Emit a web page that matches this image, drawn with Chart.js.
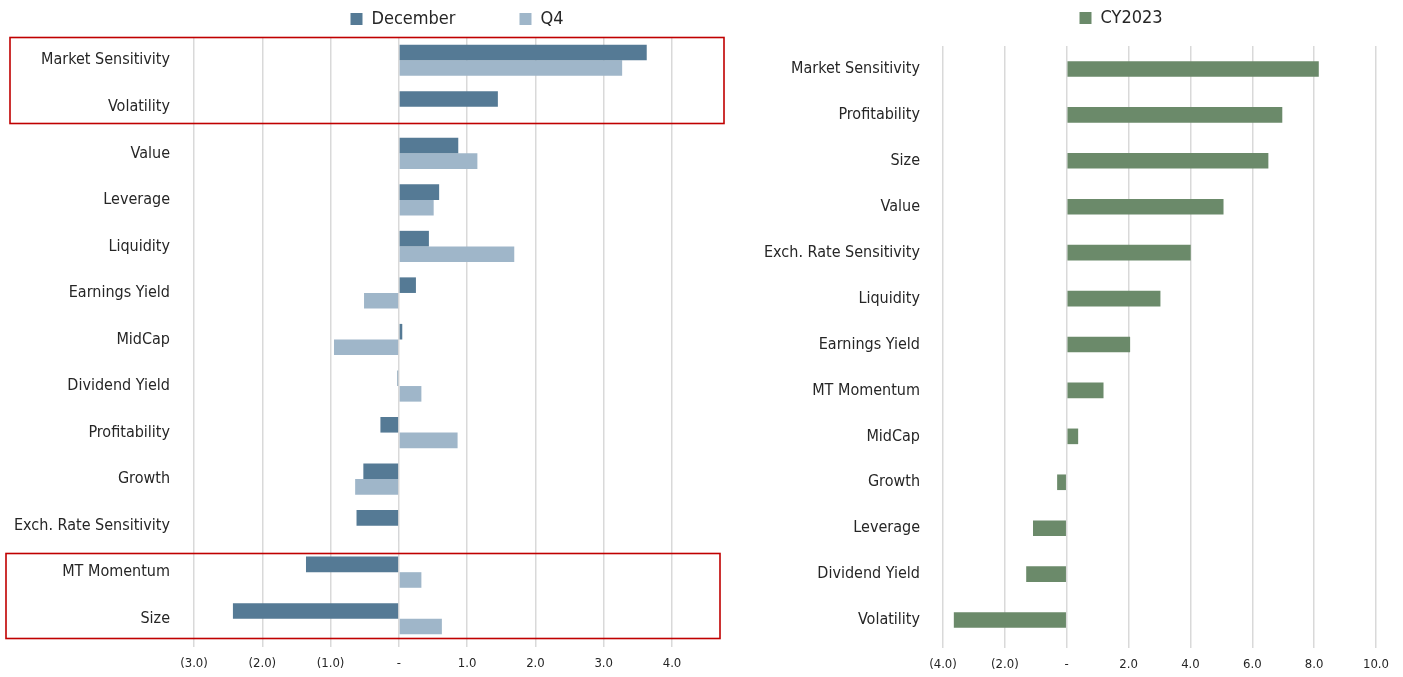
<!DOCTYPE html>
<html>
<head>
<meta charset="utf-8">
<script src="https://cdn.jsdelivr.net/npm/chart.js@4.4.0/dist/chart.umd.min.js"></script>
<style>
  html, body { margin: 0; padding: 0; background: #ffffff; }
  #wrap { position: relative; width: 1403px; height: 677px; overflow: hidden; }
  .box { position: absolute; top: 0; height: 677px; }
  #leftBox { left: 0; width: 730px; }
  #rightBox { left: 730px; width: 673px; }
</style>
</head>
<body>
<div id="wrap">
  <div class="box" id="leftBox"><canvas id="leftChart" width="730" height="677"></canvas></div>
  <div class="box" id="rightBox"><canvas id="rightChart" width="673" height="677"></canvas></div>
</div>
<script>
// ---------- DATA ----------
const leftCategories = ['Market Sensitivity', 'Volatility', 'Value', 'Leverage', 'Liquidity', 'Earnings Yield',
  'MidCap', 'Dividend Yield', 'Profitability', 'Growth', 'Exch. Rate Sensitivity', 'MT Momentum', 'Size'];
const decemberValues = [3.63, 1.45, 0.87, 0.59, 0.44, 0.25, 0.05, -0.02, -0.27, -0.52, -0.62, -1.36, -2.43];
const q4Values = [3.27, 0.01, 1.15, 0.51, 1.69, -0.51, -0.95, 0.33, 0.86, -0.64, -0.01, 0.33, 0.63];
const leftTickValues = [-3, -2, -1, 0, 1, 2, 3, 4];
const leftSeriesNames = ['December', 'Q4'];

const rightCategories = ['Market Sensitivity', 'Profitability', 'Size', 'Value', 'Exch. Rate Sensitivity',
  'Liquidity', 'Earnings Yield', 'MT Momentum', 'MidCap', 'Growth', 'Leverage', 'Dividend Yield', 'Volatility'];
const cy2023Values = [8.15, 6.97, 6.52, 5.07, 4.01, 3.03, 2.05, 1.19, 0.37, -0.31, -1.09, -1.31, -3.65];
const rightTickValues = [-4, -2, 0, 2, 4, 6, 8, 10];
const rightSeriesNames = ['CY2023'];

// highlighted category ranges on the left chart: [first, last]
const highlightGroups = [['Market Sensitivity', 'Volatility'], ['MT Momentum', 'Size']];

// ---------- STYLE ----------
const FONT = "'DejaVu Sans Condensed', sans-serif";
const TEXT = '#262626';
const GRID = '#d9d9d9';
const COL_DEC = '#557a95';
const COL_Q4 = '#9fb6c9';
const COL_CY = '#6b8a6a';
const RED = '#c00000';

function fmt(v) {
  if (Math.abs(v) < 1e-9) return '-';
  const s = Math.abs(v).toFixed(1);
  return v < 0 ? '(' + s + ')' : s;
}

function legendPlugin(firstBoxX, centerY) {
  return {
    id: 'legendPlace',
    beforeLayout(chart) {
      const lg = chart.legend;
      if (lg && !lg._patched) {
        const f = lg.fit;
        lg.fit = function () { f.call(this); this.height = 0; };
        lg._patched = true;
      }
    },
    afterLayout(chart) {
      const lg = chart.legend;
      if (!lg) return;
      const p = lg.options.labels.padding;
      const fs = lg.options.labels.font.size;
      const bh = lg.options.labels.boxHeight || fs;
      const itemH = Math.max(fs, bh);
      lg.left = firstBoxX - p;
      lg.right = firstBoxX + lg.lineWidths[0] + 1;
      lg.top = centerY - p - itemH / 2;
      lg.bottom = centerY + 30;
      lg.width = lg.right - lg.left;
      lg.height = lg.bottom - lg.top;
    }
  };
}

function makeOptions(cfg) {
  return {
    indexAxis: 'y',
    responsive: false,
    animation: false,
    events: [],
    layout: { padding: { top: cfg.top, right: cfg.right, left: 0, bottom: 0 } },
    plugins: {
      legend: {
        display: true,
        position: 'top',
        labels: {
          boxWidth: 12, boxHeight: 12, padding: cfg.legendPad,
          color: TEXT,
          font: { family: FONT, size: 18 }
        }
      },
      tooltip: { enabled: false }
    },
    scales: {
      x: {
        min: cfg.min, max: cfg.max,
        afterBuildTicks(s) { s.ticks = cfg.ticks.map(v => ({ value: v })); },
        afterFit(s) { s.height = cfg.xHeight; },
        grid: { color: GRID, lineWidth: 1.5, drawTicks: true, tickLength: 5, tickColor: GRID },
        border: { display: false },
        ticks: {
          color: TEXT, padding: 9,
          font: { family: FONT, size: 13 },
          maxRotation: 0, autoSkip: false,
          callback: v => fmt(v)
        }
      },
      y: {
        afterFit(s) { s.width = cfg.yWidth; },
        grid: { display: false, drawTicks: false },
        border: { display: false },
        ticks: {
          color: TEXT, padding: cfg.yPad,
          font: { family: FONT, size: 16 },
          autoSkip: false
        }
      }
    }
  };
}

// red highlight boxes on left chart
const highlightPlugin = {
  id: 'highlight',
  afterDraw(chart) {
    const y = chart.scales.y;
    const step = y.getPixelForValue(1) - y.getPixelForValue(0);
    const boxes = [
      { g: highlightGroups[0], x1: 10, x2: 724, t: 0.49, b: 0.35 },
      { g: highlightGroups[1], x1: 6, x2: 720, t: 0.42, b: 0.41 }
    ];
    const ctx = chart.ctx;
    ctx.save();
    ctx.strokeStyle = RED;
    ctx.lineWidth = 1.6;
    boxes.forEach(bx => {
      const i1 = leftCategories.indexOf(bx.g[0]);
      const i2 = leftCategories.indexOf(bx.g[1]);
      const top = y.getPixelForValue(i1) - step * bx.t;
      const bot = y.getPixelForValue(i2) + step * bx.b;
      ctx.strokeRect(bx.x1, Math.round(top) + 0.5, bx.x2 - bx.x1, Math.round(bot - top));
    });
    ctx.restore();
  }
};

new Chart(document.getElementById('leftChart'), {
  type: 'bar',
  data: {
    labels: leftCategories,
    datasets: [
      { label: leftSeriesNames[0], data: decemberValues, backgroundColor: COL_DEC, barPercentage: 1.0, categoryPercentage: 0.67 },
      { label: leftSeriesNames[1], data: q4Values, backgroundColor: COL_Q4, barPercentage: 1.0, categoryPercentage: 0.67 }
    ]
  },
  options: makeOptions({ top: 37, right: 58, min: -3, max: 4, ticks: leftTickValues, xHeight: 35, yWidth: 194, yPad: 24, legendPad: 64 }),
  plugins: [legendPlugin(350, 19), highlightPlugin]
});

new Chart(document.getElementById('rightChart'), {
  type: 'bar',
  data: {
    labels: rightCategories,
    datasets: [
      { label: rightSeriesNames[0], data: cy2023Values, backgroundColor: COL_CY, barPercentage: 1.0, categoryPercentage: 0.34 }
    ]
  },
  options: makeOptions({ top: 46, right: 27, min: -4, max: 10, ticks: rightTickValues, xHeight: 34, yWidth: 213, yPad: 23, legendPad: 20 }),
  plugins: [legendPlugin(1079 - 730, 18)]
});
</script>
</body>
</html>
